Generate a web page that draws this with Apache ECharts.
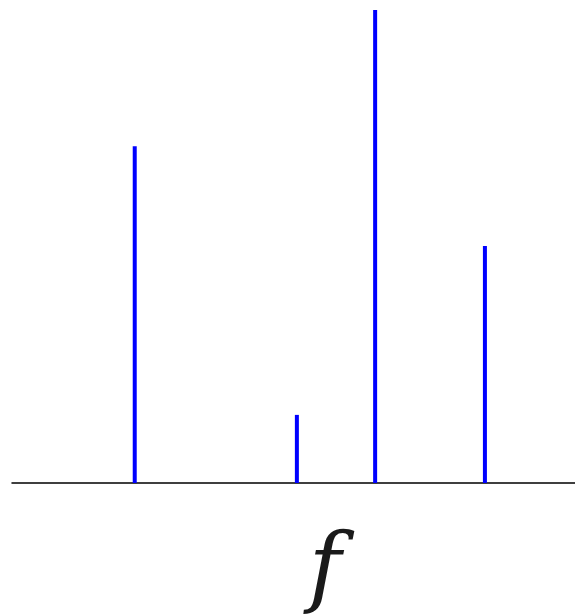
<!DOCTYPE html>
<html><head><meta charset="utf-8">
<script src="https://cdn.jsdelivr.net/npm/echarts@6/dist/echarts.min.js"></script>
<style>html,body{margin:0;padding:0;background:#fff}#c{width:575px;height:616px}</style>
</head><body><div id="c"></div>
<script>
var frequencies = [21.8, 50.6, 64.5, 84.0];
var amplitudes = [0.712, 0.144, 1.0, 0.501];
var axisLabel = 'f';

var chart = echarts.init(document.getElementById('c'));
chart.setOption({
  animation: false,
  backgroundColor: '#ffffff',
  grid: {left: 12, right: 0, top: 10, bottom: 133},
  xAxis: {
    type: 'value', min: 0, max: 100,
    axisLine: {show: true, onZero: false, lineStyle: {color: '#000', width: 1.5}},
    axisTick: {show: false}, axisLabel: {show: false}, splitLine: {show: false}
  },
  yAxis: {
    type: 'value', min: 0, max: 1,
    axisLine: {show: false}, axisTick: {show: false}, axisLabel: {show: false}, splitLine: {show: false}
  },
  graphic: [{
    type: 'text', x: 325, y: 573,
    style: {
      text: axisLabel,
      font: "italic 88px 'DejaVu Serif', serif",
      fill: '#1a1a1a',
      align: 'center',
      verticalAlign: 'middle'
    }
  }],
  series: [{
    type: 'bar', barWidth: 4,
    itemStyle: {color: '#0000ff'},
    data: frequencies.map(function (f, i) { return [f, amplitudes[i]]; })
  }]
});
</script></body></html>
